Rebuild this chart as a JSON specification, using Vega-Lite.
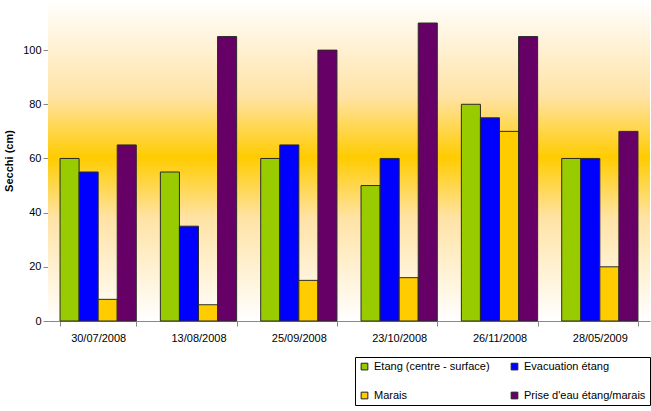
{
  "$schema": "https://vega.github.io/schema/vega-lite/v6.json",
  "width": 602,
  "height": 321,
  "autosize": {"type": "none"},
  "padding": {"left": 48, "top": 0, "right": 1, "bottom": 90},
  "background": "white",
  "config": {"view": {"stroke": null}, "font": "Liberation Sans"},
  "layer": [
    {
      "data": {"values": [{"lo": 0, "hi": 118.5}]},
      "mark": {
        "type": "rect",
        "fill": {
          "gradient": "linear", "x1": 0, "y1": 0, "x2": 0, "y2": 1,
          "stops": [
            {"offset": 0, "color": "#FFFFFF"},
            {"offset": 0.3, "color": "#FFE3A6"},
            {"offset": 0.49, "color": "#FFCC00"},
            {"offset": 0.68, "color": "#FFE3A6"},
            {"offset": 1, "color": "#FFFFFF"}
          ]
        }
      },
      "encoding": {
        "y": {"field": "lo", "type": "quantitative"},
        "y2": {"field": "hi"}
      }
    },
    {
      "data": {
        "values": [
          {"date": "30/07/2008", "series": "Etang (centre - surface)", "value": 60},
          {"date": "30/07/2008", "series": "Evacuation étang", "value": 55},
          {"date": "30/07/2008", "series": "Marais", "value": 8},
          {"date": "30/07/2008", "series": "Prise d'eau étang/marais", "value": 65},
          {"date": "13/08/2008", "series": "Etang (centre - surface)", "value": 55},
          {"date": "13/08/2008", "series": "Evacuation étang", "value": 35},
          {"date": "13/08/2008", "series": "Marais", "value": 6},
          {"date": "13/08/2008", "series": "Prise d'eau étang/marais", "value": 105},
          {"date": "25/09/2008", "series": "Etang (centre - surface)", "value": 60},
          {"date": "25/09/2008", "series": "Evacuation étang", "value": 65},
          {"date": "25/09/2008", "series": "Marais", "value": 15},
          {"date": "25/09/2008", "series": "Prise d'eau étang/marais", "value": 100},
          {"date": "23/10/2008", "series": "Etang (centre - surface)", "value": 50},
          {"date": "23/10/2008", "series": "Evacuation étang", "value": 60},
          {"date": "23/10/2008", "series": "Marais", "value": 16},
          {"date": "23/10/2008", "series": "Prise d'eau étang/marais", "value": 110},
          {"date": "26/11/2008", "series": "Etang (centre - surface)", "value": 80},
          {"date": "26/11/2008", "series": "Evacuation étang", "value": 75},
          {"date": "26/11/2008", "series": "Marais", "value": 70},
          {"date": "26/11/2008", "series": "Prise d'eau étang/marais", "value": 105},
          {"date": "28/05/2009", "series": "Etang (centre - surface)", "value": 60},
          {"date": "28/05/2009", "series": "Evacuation étang", "value": 60},
          {"date": "28/05/2009", "series": "Marais", "value": 20},
          {"date": "28/05/2009", "series": "Prise d'eau étang/marais", "value": 70}
        ]
      },
      "mark": {"type": "bar", "stroke": "#2a2a2a", "strokeWidth": 1},
      "encoding": {
        "x": {
          "field": "date", "type": "nominal", "sort": null,
          "scale": {"paddingInner": 0.24, "paddingOuter": 0.12},
          "axis": {
            "title": null, "labelAngle": 0, "labelFontSize": 11, "labelColor": "#000",
            "tickBand": "extent", "tickSize": 5, "tickColor": "#888", "domainColor": "#888",
            "labelPadding": 6
          }
        },
        "xOffset": {
          "field": "series", "type": "nominal",
          "sort": ["Etang (centre - surface)", "Evacuation étang", "Marais", "Prise d'eau étang/marais"],
          "scale": {"paddingInner": 0, "paddingOuter": 0}
        },
        "y": {
          "field": "value", "type": "quantitative",
          "scale": {"domain": [0, 118.5], "nice": false},
          "axis": {
            "values": [0, 20, 40, 60, 80, 100], "grid": false, "title": "Secchi (cm)",
            "titleFontWeight": "bold", "titleFontSize": 11, "titleColor": "#000",
            "labelFontSize": 11, "labelColor": "#000", "tickSize": 5, "tickColor": "#888",
            "domainColor": "#888", "titlePadding": 8
          }
        },
        "color": {
          "field": "series", "type": "nominal",
          "scale": {
            "domain": ["Etang (centre - surface)", "Evacuation étang", "Marais", "Prise d'eau étang/marais"],
            "range": ["#99CC00", "#0000FF", "#FFCC00", "#660066"]
          },
          "legend": {
            "title": null, "orient": "none", "legendX": 307, "legendY": 357,
            "direction": "horizontal",
            "columns": 2, "strokeColor": "#000", "padding": 4,
            "symbolType": "square", "symbolSize": 45, "symbolStrokeColor": "#222",
            "symbolStrokeWidth": 1, "symbolOpacity": 1,
            "labelFontSize": 11, "labelColor": "#000", "labelLimit": 0,
            "rowPadding": 17, "columnPadding": 19
          }
        }
      }
    }
  ]
}
